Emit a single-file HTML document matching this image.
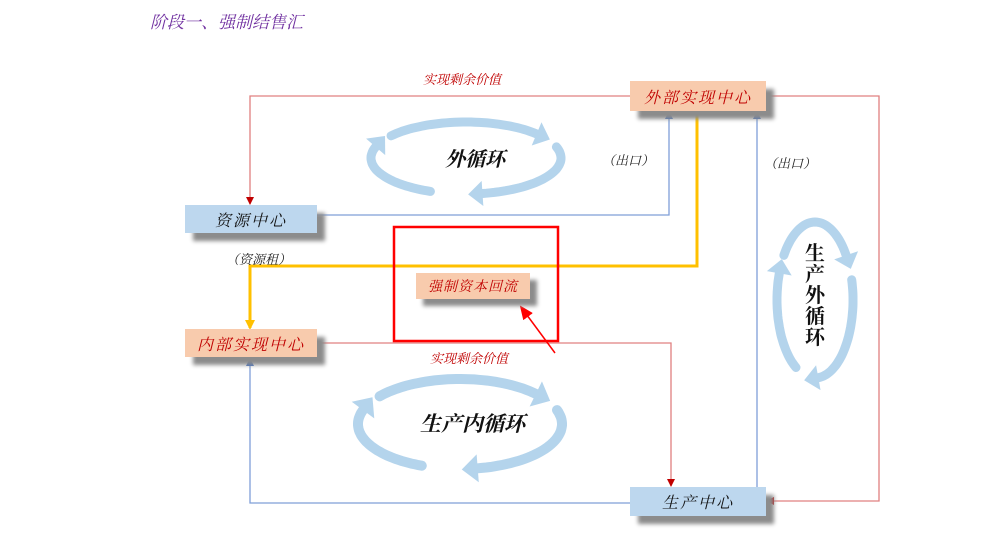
<!DOCTYPE html>
<html><head><meta charset="utf-8">
<style>
body{margin:0;background:#fff;}
.wrap{position:relative;width:1000px;height:558px;overflow:hidden;font-family:"Liberation Serif","Noto Serif CJK SC",serif;}
.box{position:absolute;display:flex;align-items:center;justify-content:center;font-style:italic;font-size:16px;box-shadow:8px 8px 4px #8c8c8c;letter-spacing:2px;}
.b{background:#bdd7ee;color:#111;}
.o{background:#f8cbad;color:#c00000;}
.t{position:absolute;font-style:italic;font-size:13px;white-space:nowrap;}
</style></head><body>
<div class="wrap">
<svg id="s" width="1000" height="558" style="position:absolute;left:0;top:0">
<defs>
<marker id="ar" markerWidth="8" markerHeight="8" refX="7" refY="4" orient="auto" markerUnits="userSpaceOnUse"><path d="M0,0 L8,4 L0,8z" fill="#c00000"/></marker>
<marker id="ab" markerWidth="8" markerHeight="8" refX="7" refY="4" orient="auto" markerUnits="userSpaceOnUse"><path d="M0,0 L8,4 L0,8z" fill="#4472c4"/></marker>
<marker id="ay" markerWidth="10" markerHeight="10" refX="8" refY="5" orient="auto" markerUnits="userSpaceOnUse"><path d="M0,0 L10,5 L0,10z" fill="#ffc000"/></marker>
<marker id="rr" markerWidth="14" markerHeight="12" refX="12" refY="6" orient="auto" markerUnits="userSpaceOnUse"><path d="M0,0 L14,6 L0,12z" fill="#ff0000"/></marker>
</defs>
<g fill="none">
<polyline points="630,96 250,96 250,204" stroke="#e08080" stroke-width="1.3" marker-end="url(#ar)"/>
<polyline points="766,96 879,96 879,501 767,501" stroke="#e08080" stroke-width="1.3" marker-end="url(#ar)"/>
<polyline points="317,343 671,343 671,486" stroke="#e08080" stroke-width="1.3" marker-end="url(#ar)"/>
<polyline points="317,215 669,215 669,112" stroke="#7f9fd8" stroke-width="1.3" marker-end="url(#ab)"/>
<polyline points="757,487 757,112" stroke="#7f9fd8" stroke-width="1.3" marker-end="url(#ab)"/>
<polyline points="630,503 250,503 250,359" stroke="#7f9fd8" stroke-width="1.3" marker-end="url(#ab)"/>
<polyline points="697,111 697,266 250,266 250,328" stroke="#ffc000" stroke-width="3" marker-end="url(#ay)"/>
<rect x="394" y="227" width="164" height="114" stroke="#ff0000" stroke-width="2.5"/>
<line x1="555" y1="353" x2="521" y2="307" stroke="#ff0000" stroke-width="1.5" marker-end="url(#rr)"/>
</g>
<g id="cyc"></g>
</svg>
<div class="t" style="left:150px;top:8px;font-size:17px;color:#7030a0;">阶段一、强制结售汇</div>
<div class="t" style="left:423px;top:69px;color:#c00000;">实现剩余价值</div>
<div class="t" style="left:430px;top:348px;color:#c00000;">实现剩余价值</div>
<div class="t" style="left:226px;top:249px;color:#222;">（资源租）</div>
<div class="t" style="left:602px;top:150px;color:#222;">（出口）</div>
<div class="t" style="left:764px;top:153px;color:#222;">（出口）</div>
<div class="t" style="left:445px;top:143px;font-size:20px;font-weight:bold;color:#111;">外循环</div>
<div class="t" style="left:420px;top:408px;font-size:21px;font-weight:bold;color:#111;">生产内循环</div>
<div class="t" style="left:805px;top:244px;font-size:20px;font-weight:bold;color:#111;width:22px;white-space:normal;line-height:21px;font-style:normal;">生产外循环</div>
<div class="box o" style="left:630px;top:81px;width:136px;height:30px;">外部实现中心</div>
<div class="box b" style="left:185px;top:205px;width:132px;height:28px;">资源中心</div>
<div class="box o" style="left:185px;top:329px;width:132px;height:28px;">内部实现中心</div>
<div class="box b" style="left:630px;top:487px;width:136px;height:29px;">生产中心</div>
<div class="box o" style="left:416px;top:273px;width:114px;height:26px;font-size:14px;letter-spacing:1px;box-shadow:7px 7px 4px #8c8c8c;">强制资本回流</div>
</div>
<script>
var g=document.getElementById('cyc'),NS='http://www.w3.org/2000/svg',C='#b4d4ec';
function cyc(cx,cy,rx,ry,segs,w){
 segs.forEach(function(s){
  var a0=s[0]*Math.PI/180,a1=s[1]*Math.PI/180,n=40,d='';
  for(var i=0;i<=n;i++){var a=a0+(a1-a0)*i/n;d+=(i?'L':'M')+(cx+rx*Math.cos(a)).toFixed(1)+','+(cy+ry*Math.sin(a)).toFixed(1);}
  var p=document.createElementNS(NS,'path');p.setAttribute('d',d);p.setAttribute('fill','none');p.setAttribute('stroke',C);p.setAttribute('stroke-width',w);p.setAttribute('stroke-linecap','round');g.appendChild(p);
  var ex=cx+rx*Math.cos(a1),ey=cy+ry*Math.sin(a1);
  var tx=-rx*Math.sin(a1),ty=ry*Math.cos(a1),L=Math.hypot(tx,ty);tx/=L;ty/=L;
  var h=w*1.6,b=w*1.4;
  var pts=[[ex+tx*h,ey+ty*h],[ex-ty*b,ey+tx*b],[ex+ty*b,ey-tx*b]];
  var q=document.createElementNS(NS,'polygon');q.setAttribute('points',pts.map(function(v){return v.join(',')}).join(' '));q.setAttribute('fill',C);g.appendChild(q);
 });
}
cyc(466,158,95,36,[[218,318],[342,440],[112,198]],9);
cyc(460,424,102,45,[[218,318],[342,440],[112,198]],10);
cyc(815,300,38,78,[[215,325],[345,445],[120,200]],9);
</script>
</body></html>
